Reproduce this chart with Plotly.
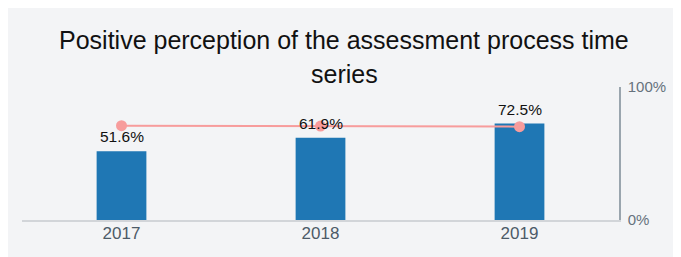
import plotly.graph_objects as go

years = ["2017", "2018", "2019"]
positive_pct = [51.6, 61.9, 72.5]
benchmark_pct = [70.9, 70.6, 70.2]
label_text = ["51.6%", "61.9%", "72.5%"]
title_lines = ["Positive perception of the assessment process time", "series"]
right_tick_vals = [0, 100]
right_tick_text = ["0%", "100%"]

FONT = "Liberation Sans, Arial, sans-serif"
BG = "#f3f4f6"

fig = go.Figure()
fig.add_trace(go.Bar(
    x=years, y=positive_pct, marker=dict(color="#1f77b4", line=dict(width=0)),
    hoverinfo="skip", showlegend=False,
))
fig.add_trace(go.Scatter(
    x=years, y=benchmark_pct, mode="lines+markers",
    line=dict(color="#f79c9c", width=2),
    marker=dict(color="#f79c9c", size=11),
    hoverinfo="skip", showlegend=False,
))

annotations = []
for i, (v, t) in enumerate(zip(positive_pct, label_text)):
    annotations.append(dict(
        x=i, y=v, xref="x", yref="y", text=t, showarrow=False,
        yanchor="bottom", xanchor="center", yshift=4,
        font=dict(family=FONT, size=15.5, color="#111111"),
    ))
annotations.append(dict(
    x=0.540, y=1.357, xref="paper", yref="paper", text=title_lines[0],
    showarrow=False, xanchor="center", yanchor="middle",
    font=dict(family=FONT, size=25, color="#111111"),
))
annotations.append(dict(
    x=0.540, y=1.094, xref="paper", yref="paper", text=title_lines[1],
    showarrow=False, xanchor="center", yanchor="middle",
    font=dict(family=FONT, size=25, color="#111111"),
))

fig.update_layout(
    width=681, height=257,
    margin=dict(l=14, r=70, t=79, b=45),
    paper_bgcolor=BG,
    plot_bgcolor=BG,
    bargap=0.75,
    font=dict(family=FONT),
    annotations=annotations,
    xaxis=dict(
        type="category", range=[-0.5, len(years) - 0.5],
        showline=True, linecolor="#d2d5d9", linewidth=1.5,
        showgrid=False, ticks="", zeroline=False,
        tickfont=dict(family=FONT, size=17, color="#4d5b68"),
        ticklabelstandoff=-3,
    ),
    yaxis=dict(
        range=[0, 100], side="right", showline=True, linecolor="#9aa5ae",
        linewidth=1.5, showgrid=False, zeroline=False, ticks="",
        tickvals=right_tick_vals, ticktext=right_tick_text,
        tickfont=dict(family=FONT, size=15, color="#66727d"),
        ticklabelstandoff=4,
    ),
)

fig.write_html("out.html")
